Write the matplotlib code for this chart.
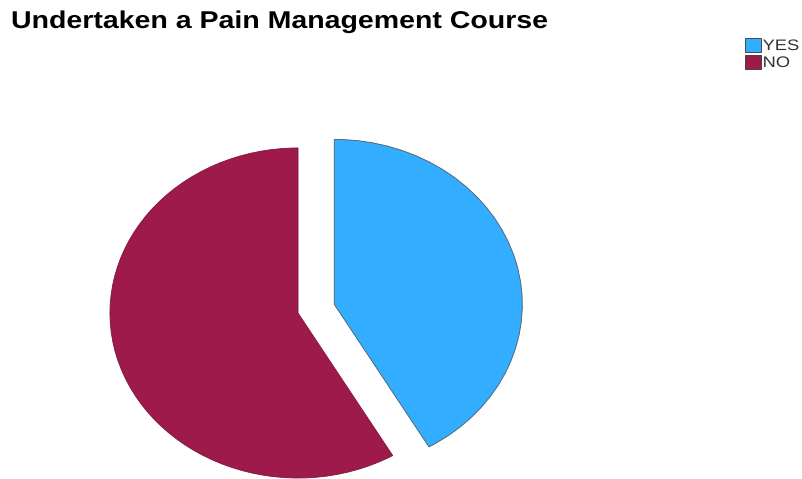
import matplotlib
matplotlib.use("Agg")
from matplotlib import pyplot as plt
from matplotlib.patches import Patch
from matplotlib.patheffects import AbstractPathEffect
from matplotlib.transforms import Affine2D

plt.rcParams['font.family'] = ['Liberation Sans', 'DejaVu Sans']

labels = ['YES', 'NO']
shares = [41.6, 58.4]
colors = ['#33adff', '#9e1a4a']
edges = ['#4a5a6a', '#7a1038']
explode = [0.2, 0.0]


class StretchX(AbstractPathEffect):
    # the source image is widened horizontally, so its text is too
    def __init__(self, sx, x0):
        super().__init__()
        self.sx, self.x0 = sx, x0

    def draw_path(self, renderer, gc, tpath, affine, rgbFace=None):
        extra = Affine2D().translate(-self.x0, 0).scale(self.sx, 1).translate(self.x0, 0)
        renderer.draw_path(gc, tpath, affine + extra, rgbFace)


W, H = 802, 479
fig = plt.figure(figsize=(W / 100, H / 100), dpi=100)
ax = fig.add_axes([0, 0, 1, 1])

wedges, _ = ax.pie(shares, colors=colors, explode=explode, startangle=90,
                   counterclock=False, radius=1.0)
for w, ec in zip(wedges, edges):
    w.set_edgecolor(ec)
    w.set_linewidth(0.6)

# stretch to the flattened ellipse of the original (rx 188px, ry 165px)
rx, ry = 188, 165
cx, cy = 298, 313  # pie centre in pixels from top-left
ax.set_aspect('auto')
ax.set_xlim(-cx / rx, (W - cx) / rx)
ax.set_ylim(-(H - cy) / ry, cy / ry)
ax.axis('off')

title = fig.text(11 / W, 1 - 28 / H, 'Undertaken a Pain Management Course',
                 fontsize=17.5, fontweight='bold', color='black', va='baseline')
fig.canvas.draw()
tw = title.get_window_extent().width
title.set_path_effects([StretchX(537 / tw, 11)])

handles = [Patch(facecolor=c, edgecolor='#333333', linewidth=0.6) for c in colors]
leg = fig.legend(handles, labels, loc='upper left', bbox_to_anchor=(745 / W, 1 - 38 / H),
                 frameon=False, fontsize=11, handlelength=1.05, handleheight=1.0,
                 handletextpad=0.1, labelspacing=0.12, borderpad=0, borderaxespad=0,
                 labelcolor='#333333')
fig.canvas.draw()
for t in leg.get_texts():
    x0 = t.get_window_extent().x0
    t.set_path_effects([StretchX(1.2, x0)])

fig.savefig('out.png', dpi=100)
